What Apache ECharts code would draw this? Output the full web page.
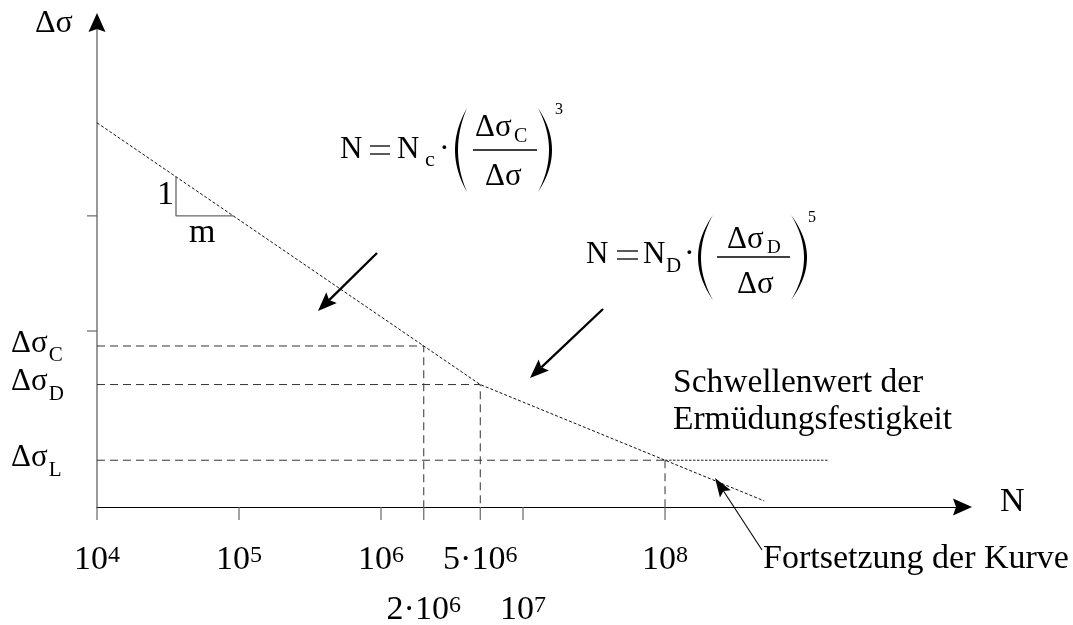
<!DOCTYPE html>
<html>
<head>
<meta charset="utf-8">
<script src="https://cdn.jsdelivr.net/npm/echarts@6/dist/echarts.min.js"></script>
<style>
  html, body { margin: 0; padding: 0; background: #fff; }
  #main { width: 1073px; height: 625px; }
</style>
</head>
<body>
<div id="main"></div>
<script>
// Wöhler (S-N) curve: stress range Δσ against number of cycles N, both logarithmic
const SERIF = '"Liberation Serif", "Times New Roman", serif';

// curve nodes: cycles and stress range
const curveN  = [1e4, 2e6, 5e6, 1e8, 5e8];
const curveDS = [584.8, 100, 73.7, 40.5, 29.35];

// characteristic points C (fatigue strength), D (constant amplitude limit), L (cut-off)
const nC = 2e6, dsC = 100;
const nD = 5e6, dsD = 73.7;
const nL = 1e8, dsL = 40.5;
const cutoffEndN = 1.4e9;

// slope triangle 1 : m
const slopeN  = [3.6e4, 3.6e4, 9.11e4];
const slopeDS = [381.6, 280, 280];

// axis extents
const xMin = 1e4, xMax = 1.234e10;
const yMin = 27.97, yMax = 1268;

// tick marks and their labels
const xTicks    = [1e4, 1e5, 1e6, 2e6, 5e6, 1e7, 1e8];
const xTickBase = ['10', '10', '10', '2·10', '5·10', '10', '10'];
const xTickExp  = ['4', '5', '6', '6', '6', '7', '8'];
const xTickRow  = [0, 0, 0, 1, 0, 1, 0];
const yTicks    = [112.6, 280];

// stress levels labelled on the left
const levelValues = [dsC, dsD, dsL];
const levelSubs   = ['C', 'D', 'L'];

const chart = echarts.init(document.getElementById('main'), null, { renderer: 'canvas' });

const pair = (ns, ds) => ns.map((n, i) => [n, ds[i]]);
const guide = { color: '#333', width: 1, type: [8, 5] };
const fine  = { color: '#111', width: 1, type: [3, 2] };

const lineSeries = (data, style) => ({
  type: 'line', data, symbol: 'none', silent: true, clip: false,
  lineStyle: style, emphasis: { disabled: true }
});

chart.setOption({
  animation: false,
  backgroundColor: '#fff',
  grid: { left: 97, right: 111, top: 25, bottom: 118, containLabel: false, outerBoundsMode: 'none' },
  xAxis: {
    type: 'log', logBase: 10, min: xMin, max: xMax,
    axisLine: { show: true, lineStyle: { color: '#000', width: 1.2 } },
    axisTick: { show: false }, axisLabel: { show: false },
    splitLine: { show: false }, minorTick: { show: false }
  },
  yAxis: {
    type: 'log', logBase: 10, min: yMin, max: yMax,
    axisLine: { show: true, lineStyle: { color: '#777', width: 1.5 } },
    axisTick: { show: false }, axisLabel: { show: false },
    splitLine: { show: false }, minorTick: { show: false }
  },
  series: [
    lineSeries([[xMin, dsC], [nC, dsC], [nC, yMin]], guide),
    lineSeries([[xMin, dsD], [nD, dsD], [nD, yMin]], guide),
    lineSeries([[xMin, dsL], [nL, dsL]], guide),
    lineSeries([[nL, dsL], [nL, yMin]], guide),
    lineSeries([[nL, dsL], [cutoffEndN, dsL]], { color: '#222', width: 1, type: [2.5, 1.5] }),
    lineSeries(pair(slopeN, slopeDS), { color: '#666', width: 1.3, type: 'solid' }),
    lineSeries(pair(curveN, curveDS), fine)
  ]
});

// ---- overlay: ticks, arrows, labels and formulas ----
const ctx = document.createElement('canvas').getContext('2d');
const tw = (t, size) => { ctx.font = size + 'px ' + SERIF; return ctx.measureText(t).width; };
// place text by its alphabetic baseline
const txt = (t, x, base, size, align) => ({
  type: 'text', silent: true, z: 10,
  style: {
    text: t, x: x, y: base - 0.3375 * size, font: size + 'px ' + SERIF, fill: '#000',
    align: align || 'left', verticalAlign: 'middle',
    textAlign: align || 'left', textVerticalAlign: 'middle'
  }
});
const seg = (x1, y1, x2, y2, color, w) => ({
  type: 'line', silent: true, z: 9,
  shape: { x1, y1, x2, y2 }, style: { stroke: color, lineWidth: w }
});
const poly = (pts) => ({ type: 'polygon', silent: true, z: 9, shape: { points: pts }, style: { fill: '#000' } });
// wide equals sign between x1 and x2, centred on yc
const equals = (x1, x2, yc) => [seg(x1, yc - 4, x2, yc - 4, '#000', 1.3), seg(x1, yc + 4, x2, yc + 4, '#000', 1.3)];

function arrow(x1, y1, x2, y2, lw, hl, hw) {
  const dx = x2 - x1, dy = y2 - y1, L = Math.hypot(dx, dy);
  const ux = dx / L, uy = dy / L, qx = -uy, qy = ux;
  const bx = x2 - ux * hl, by = y2 - uy * hl;
  const nx = x2 - ux * hl * 0.82, ny = y2 - uy * hl * 0.82;
  return [
    seg(x1, y1, nx, ny, '#000', lw),
    poly([[x2, y2], [bx + qx * hw / 2, by + qy * hw / 2], [nx, ny], [bx - qx * hw / 2, by - qy * hw / 2]])
  ];
}

// tall bracket "(" or ")" as a filled crescent: ends at xe, bulge reaching xb
function paren(xe, xb, yTop, yBot, thick) {
  const ym = (yTop + yBot) / 2;
  const dir = xb < xe ? 1 : -1;
  const co = 2 * xb - xe, ci = 2 * (xb + dir * thick) - xe;
  const q = (c, t) => [(1 - t) * (1 - t) * xe + 2 * (1 - t) * t * c + t * t * xe,
                       (1 - t) * (1 - t) * yTop + 2 * (1 - t) * t * ym + t * t * yBot];
  const pts = [];
  for (let k = 0; k <= 24; k++) pts.push(q(co, k / 24));
  for (let k = 24; k >= 0; k--) pts.push(q(ci, k / 24));
  return poly(pts);
}

const px = (n, d) => chart.convertToPixel({ gridIndex: 0 }, [n, d]);
const g = [];

// axis arrows
const xEnd = px(xMax, yMin);
const yEnd = px(xMin, yMax);
g.push(poly([[xEnd[0] + 10, xEnd[1]], [xEnd[0] - 9, xEnd[1] - 8.5], [xEnd[0] - 6, xEnd[1]], [xEnd[0] - 9, xEnd[1] + 8.5]]));
g.push(poly([[yEnd[0], yEnd[1] - 12], [yEnd[0] - 8.5, yEnd[1] + 7], [yEnd[0], yEnd[1] + 4], [yEnd[0] + 8.5, yEnd[1] + 7]]));

// x ticks with power-of-ten labels
xTicks.forEach((n, i) => {
  const p = px(n, yMin);
  g.push(seg(p[0], p[1], p[0], p[1] + 13, '#666', 1.2));
  const bs = 34, es = 24;
  const wb = tw(xTickBase[i], bs), we = tw(xTickExp[i], es);
  const left = p[0] - (wb + we) / 2;
  const base = p[1] + (xTickRow[i] ? 115 : 65);
  g.push(txt(xTickBase[i], left, base, bs));
  g.push(txt(xTickExp[i], left + wb, base - 8, es));
});

// y ticks
yTicks.forEach(v => {
  const p = px(xMin, v);
  g.push(seg(p[0] - 10, p[1], p[0], p[1], '#666', 1.2));
});

// stress level labels Δσ_C, Δσ_D, Δσ_L
levelValues.forEach((v, i) => {
  const p = px(xMin, v);
  const base = p[1] + 8;
  g.push(txt('Δσ', 11, base, 31));
  g.push(txt(levelSubs[i], 11 + tw('Δσ', 31) + 1, base + 9, 21));
});

// axis titles
g.push(txt('Δσ', 35, 34, 32));
g.push(txt('N', 1000, 514, 34));

// slope triangle labels
g.push(txt('1', 157, 207, 34));
g.push(txt('m', 189, 245, 34));

// formula N = Nc · (ΔσC / Δσ)^3
g.push(txt('N', 340, 160, 31), ...equals(370, 390, 150), txt('N', 397, 160, 31),
       txt('c', 425, 168, 22), txt('·', 439, 160, 32));
g.push(paren(467, 455, 108, 192, 3), paren(538, 552, 108, 192, 3));
g.push(seg(473, 150, 537, 150, '#000', 1.3));
g.push(txt('Δσ', 475, 138, 31), txt('C', 514, 143, 20), txt('Δσ', 485, 187, 31), txt('3', 555, 115, 16));

// formula N = ND · (ΔσD / Δσ)^5
g.push(txt('N', 586, 265, 31), ...equals(617, 638, 255), txt('N', 643, 265, 31),
       txt('D', 666, 274, 21), txt('·', 684, 265, 32));
g.push(paren(713, 698, 215, 300, 3), paren(791, 807, 215, 300, 3));
g.push(seg(717, 257, 790, 257, '#000', 1.3));
g.push(txt('Δσ', 727, 250, 31), txt('D', 767, 254, 19), txt('Δσ', 737, 295, 31), txt('5', 808, 223, 16));

// notes
g.push(txt('Schwellenwert der', 673, 395, 33.5));
g.push(txt('Ermüdungsfestigkeit', 673, 432, 33.5));
g.push(txt('Fortsetzung der Kurve', 763, 571, 34));

// pointer arrows
g.push(...arrow(377, 253, 318, 311, 2.3, 19, 15));
g.push(...arrow(603, 309, 530, 378, 2.3, 19, 15));
g.push(...arrow(762, 550, 715, 478, 1.1, 19, 13));

chart.setOption({ graphic: { elements: g } });
</script>
</body>
</html>
